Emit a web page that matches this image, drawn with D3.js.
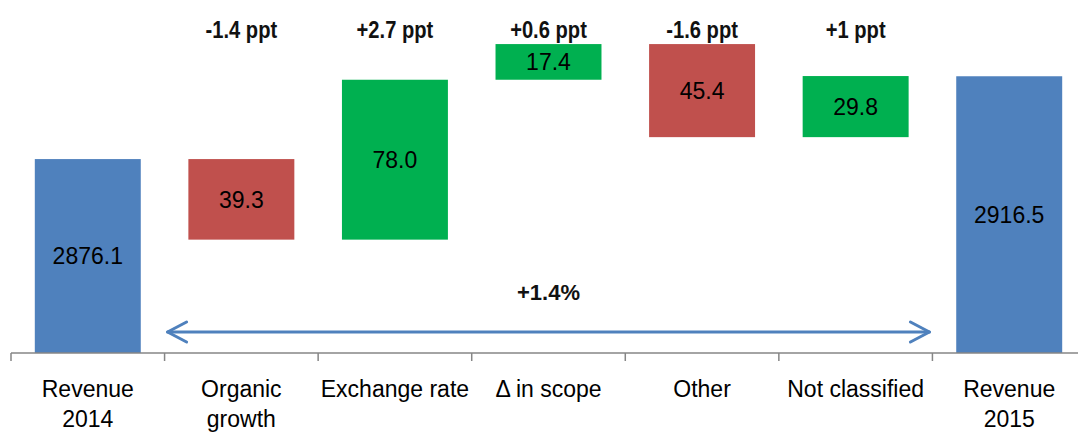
<!DOCTYPE html>
<html>
<head>
<meta charset="utf-8">
<script src="https://cdn.jsdelivr.net/npm/d3@7"></script>
<style>
  html, body { margin: 0; padding: 0; background: #fff; }
  svg { display: block; font-family: "Liberation Sans", Arial, sans-serif; }
  .axis path, .axis line { stroke: #868686; stroke-width: 1.5; }
</style>
</head>
<body>
<svg id="chart" width="1078" height="432"></svg>
<script>
// data
var categories = ["Revenue 2014", "Organic growth", "Exchange rate", "\u0394 in scope", "Other", "Not classified", "Revenue 2015"];
var catLines = [["Revenue", "2014"], ["Organic", "growth"], ["Exchange rate"], ["\u0394 in scope"], ["Other"], ["Not classified"], ["Revenue", "2015"]];
var values = [2876.1, -39.3, 78.0, 17.4, -45.4, 29.8, 2916.5];
var isTotal = [true, false, false, false, false, false, true];
var pptLabels = ["", "-1.4 ppt", "+2.7 ppt", "+0.6 ppt", "-1.6 ppt", "+1 ppt", ""];
var totalChange = "+1.4%";

var svg = d3.select("#chart"),
  W = 1078, baseY = 353;

var x = d3.scaleBand().domain(categories).range([11, 1086]).paddingInner(0.31).paddingOuter(0.155);
var y = d3.scaleLinear().domain([2781.5, 2953.7]).range([baseY, 0]);

var colBlue = "#4f81bd", colRed = "#c0504d", colGreen = "#00b050";

// build waterfall segments
var running = 0;
var bars = categories.map(function(c, i) {
  var v = values[i], lo, hi, col;
  if (isTotal[i]) {
    lo = y.domain()[0]; hi = v; running = v; col = colBlue;
  } else {
    lo = running; hi = running + v; running = hi; col = v < 0 ? colRed : colGreen;
  }
  return { cat: c, v: v, a: Math.min(lo, hi), b: Math.max(lo, hi), col: col, ppt: pptLabels[i] };
});

svg.selectAll("rect.bar")
  .data(bars)
  .enter().append("rect")
  .attr("class", "bar")
  .attr("x", function(d) { return x(d.cat); })
  .attr("width", x.bandwidth())
  .attr("y", function(d) { return y(d.b); })
  .attr("height", function(d) { return y(d.a) - y(d.b); })
  .attr("fill", function(d) { return d.col; });

svg.selectAll("text.val")
  .data(bars)
  .enter().append("text")
  .attr("class", "val")
  .attr("x", function(d) { return x(d.cat) + x.bandwidth() / 2; })
  .attr("y", function(d) { return (y(d.a) + y(d.b)) / 2; })
  .attr("dy", "0.36em")
  .attr("text-anchor", "middle")
  .style("font-size", "23px")
  .attr("fill", "#000")
  .text(function(d) { return Math.abs(d.v).toFixed(1); });

// the ppt labels look condensed in the original, squeeze them a bit
svg.selectAll("text.ppt")
  .data(bars.filter(function(d) { return d.ppt; }))
  .enter().append("text")
  .attr("class", "ppt")
  .attr("transform", function(d) { return "translate(" + (x(d.cat) + x.bandwidth() / 2) + ",38) scale(0.84,1)"; })
  .attr("text-anchor", "middle")
  .style("font-size", "24px")
  .style("font-weight", "bold")
  .attr("fill", "#111")
  .text(function(d) { return d.ppt; });

// axis with ticks at the band boundaries
var step = x.step(), edges = d3.range(categories.length + 1).map(function(i) { return x.range()[0] + i * step; });
var ax = svg.append("g").attr("class", "axis");
ax.append("line").attr("x1", 11).attr("x2", W).attr("y1", baseY).attr("y2", baseY);
ax.selectAll("line.tick")
  .data(edges)
  .enter().append("line")
  .attr("class", "tick")
  .attr("x1", function(d) { return d; }).attr("x2", function(d) { return d; })
  .attr("y1", baseY).attr("y2", baseY + 8);

var lab = svg.selectAll("text.cat")
  .data(categories)
  .enter().append("text")
  .attr("class", "cat")
  .attr("x", function(d) { return x(d) + x.bandwidth() / 2; })
  .attr("y", 397)
  .attr("text-anchor", "middle")
  .style("font-size", "23px")
  .attr("fill", "#000");
lab.each(function(d, i) {
  var t = d3.select(this);
  catLines[i].forEach(function(s, j) {
    t.append("tspan").attr("x", x(d) + x.bandwidth() / 2).attr("dy", j === 0 ? 0 : 30).text(s);
  });
});

// double arrow for the overall change
var ax1 = edges[1] + 3, ax2 = edges[6] - 3, ay = 332;
var arrow = svg.append("g").attr("stroke", "#4f81bd").attr("stroke-width", 3).attr("fill", "none")
  .attr("stroke-linecap", "round").attr("stroke-linejoin", "round");
arrow.append("line").attr("x1", ax1).attr("x2", ax2).attr("y1", ay).attr("y2", ay);
arrow.append("path").attr("d", "M" + (ax1 + 19) + "," + (ay - 10) + "L" + ax1 + "," + ay + "L" + (ax1 + 19) + "," + (ay + 10));
arrow.append("path").attr("d", "M" + (ax2 - 19) + "," + (ay - 10) + "L" + ax2 + "," + ay + "L" + (ax2 - 19) + "," + (ay + 10));

svg.append("text")
  .attr("x", (ax1 + ax2) / 2)
  .attr("y", 300)
  .attr("text-anchor", "middle")
  .style("font-size", "22px")
  .style("font-weight", "bold")
  .attr("fill", "#111")
  .text(totalChange);
</script>
</body>
</html>
